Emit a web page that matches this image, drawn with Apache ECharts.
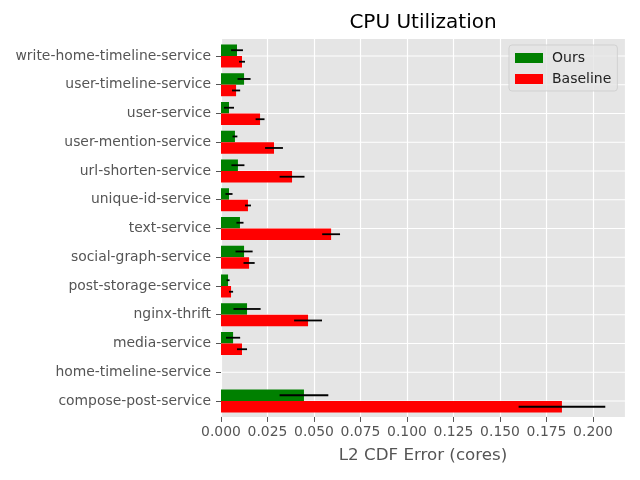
<!DOCTYPE html>
<html>
<head>
<meta charset="utf-8">
<script src="https://cdn.jsdelivr.net/npm/echarts@6/dist/echarts.min.js"></script>
<style>html,body{margin:0;padding:0;background:#fff}#c{width:640px;height:480px}</style>
</head>
<body>
<div id="c"></div>
<script>
const categories = ['write-home-timeline-service','user-timeline-service','user-service','user-mention-service','url-shorten-service','unique-id-service','text-service','social-graph-service','post-storage-service','nginx-thrift','media-service','home-timeline-service','compose-post-service'];
const ours = [0.0086, 0.0124, 0.0043, 0.0075, 0.0091, 0.0043, 0.0102, 0.0124, 0.0038, 0.0140, 0.0065, 0, 0.0446];
const oursErr = [0.0032, 0.0035, 0.0027, 0.0013, 0.0035, 0.0019, 0.0019, 0.0046, 0.0008, 0.0073, 0.0038, 0, 0.0131];
const baseline = [0.0113, 0.0081, 0.0210, 0.0285, 0.0382, 0.0145, 0.0592, 0.0151, 0.0054, 0.0468, 0.0113, 0, 0.1833];
const baselineErr = [0.0016, 0.0022, 0.0024, 0.0048, 0.0067, 0.0016, 0.0048, 0.0030, 0.0011, 0.0075, 0.0027, 0, 0.0233];
const xTicks = [0, 0.025, 0.05, 0.075, 0.1, 0.125, 0.15, 0.175, 0.2];

const FONT = 'DejaVu Sans';
const XMAX = 0.2172;

function errSeries(name, vals, errs, shift) {
  return {
    type: 'custom', name: name + ' err', xAxisIndex: 0, yAxisIndex: 0, z: 5,
    silent: true,
    data: vals.map((v, i) => [v, errs[i], i]),
    encode: { x: 0, y: 2 },
    renderItem: function (params, api) {
      const v = api.value(0), e = api.value(1), i = api.value(2);
      const band = api.size([0, 1])[1];
      const p1 = api.coord([v - e, i]);
      const p2 = api.coord([v + e, i]);
      const y = p1[1] + shift * band;
      return { type: 'line', shape: { x1: p1[0], y1: y, x2: p2[0], y2: y },
        style: { stroke: '#000', lineWidth: 1.8 } };
    }
  };
}

// horizontal white grid lines at each category tick
const hGrid = {
  type: 'custom', name: 'hgrid', xAxisIndex: 0, yAxisIndex: 0, z: 1, silent: true,
  data: categories.map((c, i) => [0, i]),
  encode: { x: 0, y: 1 },
  renderItem: function (params, api) {
    const p1 = api.coord([0, api.value(1)]);
    const p2 = api.coord([XMAX, api.value(1)]);
    return { type: 'line', shape: { x1: p1[0], y1: p1[1], x2: p2[0], y2: p2[1] },
      style: { stroke: '#fff', lineWidth: 1.2 } };
  }
};

const chart = echarts.init(document.getElementById('c'), null, { renderer: 'canvas' });
chart.setOption({
  animation: false,
  textStyle: { fontFamily: FONT },
  title: {
    text: 'CPU Utilization', left: 423, top: 13, padding: 0, textAlign: 'center',
    textStyle: { fontFamily: FONT, fontSize: 20, fontWeight: 'normal', color: '#000' }
  },
  legend: {
    data: ['Ours', 'Baseline'], orient: 'vertical', left: 509, top: 45,
    padding: [6, 6, 5, 6], itemGap: 7, itemWidth: 28, itemHeight: 10, icon: 'rect',
    backgroundColor: 'rgba(229,229,229,0.8)', borderColor: 'rgba(204,204,204,0.8)',
    borderWidth: 1, borderRadius: 3,
    textStyle: { fontFamily: FONT, fontSize: 14, color: '#222', padding: [0, 0, 0, 4] }
  },
  grid: [
    { left: 221, right: 15, top: 41.6, height: 373.75, show: false },
    { left: 221, right: 15, top: 39, bottom: 63, show: true, backgroundColor: '#e5e5e5', borderWidth: 0 }
  ],
  xAxis: [
    {
      type: 'value', gridIndex: 0, min: 0, max: XMAX, interval: 0.025, offset: 1.6,
      name: 'L2 CDF Error (cores)', nameLocation: 'middle', nameGap: 30,
      nameTextStyle: { fontFamily: FONT, fontSize: 16.7, color: '#555' },
      axisLine: { show: false },
      axisTick: { show: true, length: 5, lineStyle: { color: '#555', width: 1 }, customValues: xTicks },
      axisLabel: { fontFamily: FONT, fontSize: 13.9, color: '#555', margin: 8, customValues: xTicks,
        formatter: v => v.toFixed(3) },
      splitLine: { show: false }
    },
    {
      type: 'value', gridIndex: 1, min: 0, max: XMAX, interval: 0.025,
      axisLine: { show: false }, axisTick: { show: false }, axisLabel: { show: false },
      splitLine: { show: true, lineStyle: { color: '#fff', width: 1.2 } }
    }
  ],
  yAxis: [
    {
      type: 'category', gridIndex: 0, data: categories, inverse: true,
      axisLine: { show: false },
      axisTick: { show: true, alignWithLabel: true, length: 5, lineStyle: { color: '#555', width: 1 } },
      axisLabel: { fontFamily: FONT, fontSize: 13.9, color: '#555', margin: 10 },
      splitLine: { show: false }
    },
    { type: 'value', gridIndex: 1, show: false, min: 0, max: 1 }
  ],
  series: [
    hGrid,
    { name: 'Ours', type: 'bar', xAxisIndex: 0, yAxisIndex: 0, data: ours, z: 2,
      itemStyle: { color: '#008000' }, barWidth: '40%', barGap: '0%' },
    { name: 'Baseline', type: 'bar', xAxisIndex: 0, yAxisIndex: 0, data: baseline, z: 2,
      itemStyle: { color: '#ff0000' }, barWidth: '40%', barGap: '0%' },
    errSeries('Ours', ours, oursErr, -0.2),
    errSeries('Baseline', baseline, baselineErr, 0.2)
  ]
});
</script>
</body>
</html>
